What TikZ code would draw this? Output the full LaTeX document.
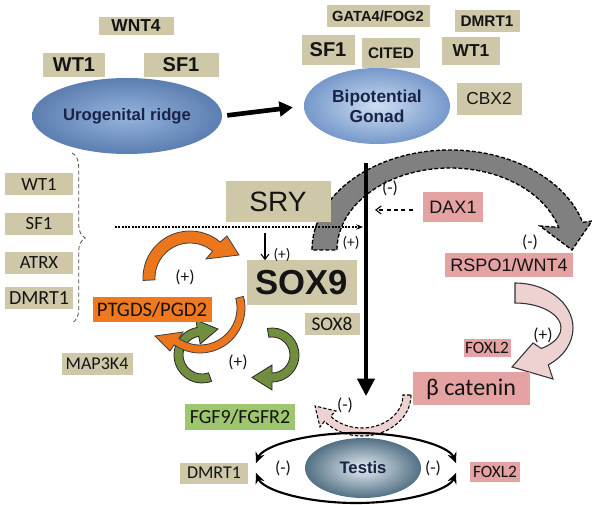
\documentclass[tikz,border=0pt]{standalone}
\usepackage{fontspec}
\setmainfont{Liberation Sans}
\newfontfamily\calf{Carlito}
\usetikzlibrary{arrows.meta,decorations.pathreplacing,calc,shapes.geometric}
\newcommand\pu{*0.75pt}
\newcommand\fs[1]{\fontsize{#1}{#1}\selectfont}
\definecolor{khaki}{RGB}{207,200,168}
\definecolor{pinkbox}{RGB}{228,162,162}
\definecolor{orangebox}{RGB}{240,120,30}
\definecolor{greenbox}{RGB}{158,198,108}
\definecolor{txt}{RGB}{20,20,20}
\definecolor{navy}{RGB}{25,35,70}
\definecolor{orangearc}{RGB}{235,118,28}
\definecolor{greenarc}{RGB}{112,142,62}
\definecolor{grayarc}{RGB}{128,128,128}
\definecolor{pinkarc}{RGB}{238,210,210}
\begin{document}
\begin{tikzpicture}[x=0.75pt,y=-0.75pt,
  box/.style={rectangle, inner sep=0pt, text=txt},
  kbox/.style={box, fill=khaki},
  pbox/.style={box, fill=pinkbox},
  lab/.style={inner sep=0pt, text=txt, font=\calf\fs{13pt}},
  oarc/.style={fill=orangearc, draw=black!75, line width=0.6pt},
  garc/.style={fill=greenarc, draw=black!85, line width=0.6pt},
  grarc/.style={fill=grayarc, draw=black, line width=1pt, dash pattern=on 3pt off 1.5pt},
  pkarc/.style={fill=pinkarc, draw=black!80, line width=0.8pt},
  pkdash/.style={fill=pinkarc, draw=black, line width=0.8pt, dash pattern=on 2.5pt off 1.5pt},
  loopline/.style={line width=1.6pt, -{Stealth[length=8pt,width=7pt]}},
]
\fill[white] (0,0) rectangle (592,505);
\useasboundingbox (0,0) rectangle (592,505);

% ---------- top row ----------
\node[kbox, minimum width=75\pu, minimum height=18\pu, font=\bfseries\fs{13pt}] (wnt4) at (136,26) {WNT4};
\node[kbox, minimum width=62\pu, minimum height=24\pu, font=\bfseries\fs{15pt}] (wt1a) at (74,65) {WT1};
\node[kbox, minimum width=75\pu, minimum height=24\pu, font=\bfseries\fs{15pt}] (sf1a) at (181,65) {SF1};
\node[ellipse, minimum width=190\pu, minimum height=76\pu, inner sep=0pt,
      inner color={rgb,255:red,150;green,180;blue,222}, outer color={rgb,255:red,92;green,126;blue,176},
      text=navy, font=\bfseries\fs{12.5pt}] (uro) at (127,116) {Urogenital ridge};
\node[ellipse, minimum width=146\pu, minimum height=76\pu, inner sep=0pt,
      inner color={rgb,255:red,205;green,222;blue,242}, outer color={rgb,255:red,118;green,152;blue,202},
      text=navy, font=\bfseries\fs{13pt}, align=center] (gonad) at (377,106) {Bipotential\\[2pt]Gonad};
\draw[line width=3.5pt, -{Triangle[length=10pt,width=11pt]}, shorten <=5\pu, shorten >=11\pu] (uro.east) -- (gonad.west);

\node[kbox, minimum width=103\pu, minimum height=22\pu, font=\bfseries\fs{11pt}] (gata) at (378,16) {GATA4/FOG2};
\node[kbox, minimum width=65\pu, minimum height=22\pu, font=\bfseries\fs{11.5pt}] (dmrta) at (487,21) {DMRT1};
\node[kbox, minimum width=53\pu, minimum height=30\pu, font=\bfseries\fs{15pt}] (sf1b) at (328,50) {SF1};
\node[kbox, minimum width=58\pu, minimum height=30\pu, font=\bfseries\fs{11.5pt}] (cited) at (391,53) {CITED};
\node[kbox, minimum width=58\pu, minimum height=28\pu, font=\bfseries\fs{13pt}] (wt1b) at (471,51) {WT1};
\node[kbox, minimum width=65\pu, minimum height=32\pu, font=\fs{13pt}] (cbx2) at (489,99) {CBX2};

% ---------- left column ----------
\node[kbox, minimum width=68\pu, minimum height=22\pu, font=\calf\fs{14pt}] (wt1c) at (39,184) {WT1};
\node[kbox, minimum width=68\pu, minimum height=22\pu, font=\calf\fs{14pt}] (sf1c) at (39,224) {SF1};
\node[kbox, minimum width=68\pu, minimum height=22\pu, font=\calf\fs{14pt}] (atrx) at (39,263) {ATRX};
\node[kbox, minimum width=68\pu, minimum height=22\pu, font=\calf\fs{15pt}] (dmrtc) at (39,298) {DMRT1};
\coordinate (brtop) at (72,153);
\coordinate (brbot) at (72,323);
\draw[black!70, line width=0.6pt, densely dashed, decorate, decoration={brace, amplitude=10pt}] (brtop) -- (brbot);

% ---------- gray arc (SRY -> RSPO1) ----------
\coordinate (gc) at (450,250);
\filldraw[grarc] ($(gc)+(-180:138 and 100)$) arc[start angle=-180, end angle=-16, x radius=138, y radius=100]
   -- (592,221) -- (572,250) -- (540,226) -- ($(gc)+(-16:113 and 82)$)
   arc[start angle=-16, end angle=-180, x radius=113, y radius=82] -- cycle;

% ---------- SRY / SOX9 ----------
\node[kbox, minimum width=105\pu, minimum height=41\pu, font=\fs{21pt}] (sry) at (278,202) {SRY};
\node[kbox, minimum width=110\pu, minimum height=45\pu, font=\bfseries\fs{26pt}] (sox9) at (302,283) {SOX9};
\node[kbox, minimum width=55\pu, minimum height=22\pu, font=\calf\fs{14.5pt}] (sox8) at (332,324) {SOX8};

\coordinate (hl) at (115,227);
\coordinate (hr) at (363,227);
\draw[line width=1.5pt, densely dotted, -{Stealth[length=5pt,width=4pt]}] (hl) -- (hr);
\coordinate (vtop) at (366,163);
\coordinate (vbot) at (366,396);
\draw[line width=2.4pt, -{Triangle[length=13pt,width=13pt]}] (vtop) -- (vbot);
\coordinate (sa) at (265,233);
\draw[line width=0.8pt, -{Straight Barb[length=4pt,width=6pt]}] (sa) -- (sox9.north -| sa);

% ---------- DAX1 ----------
\node[pbox, minimum width=60\pu, minimum height=30\pu, font=\fs{13.5pt}] (dax1) at (453,207) {DAX1};
\coordinate (daxend) at (375,210);
\draw[line width=0.8pt, dash pattern=on 3pt off 2.5pt, -{Straight Barb[length=4pt,width=6pt]}] (dax1.west |- daxend) ++(-10,0) -- (daxend);

% ---------- RSPO1 / beta catenin ----------
\node[pbox, minimum width=128\pu, minimum height=24\pu, font=\fs{13.5pt}] (rspo) at (509,265) {RSPO1/WNT4};
\coordinate (pc) at (515,328);
\filldraw[pkarc] ($(pc)+(-90:58 and 45)$) arc[start angle=-90, end angle=55, x radius=58, y radius=45]
   -- (553,379) -- (512,367) -- (533,343) -- ($(pc)+(55:46 and 25)$)
   arc[start angle=55, end angle=-90, x radius=46, y radius=25] -- cycle;
\node[pbox, minimum width=47\pu, minimum height=18\pu, font=\calf\fs{13pt}] (foxa) at (487,348) {FOXL2};
\node[pbox, minimum width=117\pu, minimum height=33\pu, font=\calf\fs{18pt}] (bcat) at (471,389) {β catenin};

% pink dashed arrow
\coordinate (qc) at (362,395);
\filldraw[pkdash] ($(qc)+(0:49 and 41)$) arc[start angle=0, end angle=140, x radius=49, y radius=41]
   -- (320,427) -- (315,406) -- (336,411) -- ($(qc)+(140:41 and 33)$)
   arc[start angle=140, end angle=0, x radius=41, y radius=33] -- cycle;

% ---------- green / orange loops ----------
\coordinate (g1) at (202,355);
\filldraw[garc] ($(g1)+(70:28)$) arc[start angle=70, end angle=260, radius=28]
   -- (195.8,320) -- (218,329) -- (200.2,344) -- ($(g1)+(260:19)$)
   arc[start angle=260, end angle=70, radius=19] -- cycle;
\coordinate (g2) at (272,355);
\filldraw[garc] ($(g2)+(-100:27)$) arc[start angle=-100, end angle=90, radius=27]
   -- (272,390) -- (252,377.5) -- (272,365) -- ($(g2)+(90:18)$)
   arc[start angle=90, end angle=-100, radius=18] -- cycle;
\coordinate (o1) at (190,278);
\filldraw[oarc] ($(o1)+(-183:47)$) arc[start angle=-183, end angle=-50, radius=47]
   -- (227,236) -- (239,255) -- (206,259) -- ($(o1)+(-50:35)$)
   arc[start angle=-50, end angle=-183, radius=35] -- cycle;
\coordinate (o2) at (200,308);
\filldraw[oarc] ($(o2)+(-15:45)$) arc[start angle=-15, end angle=125, radius=45]
   -- (170,351) -- (155,336) -- (183,332) -- ($(o2)+(125:37)$)
   arc[start angle=125, end angle=-15, radius=37] -- cycle;

\node[box, fill=orangebox, minimum width=119\pu, minimum height=25\pu, font=\calf\fs{15.5pt}] (ptgds) at (152,310) {PTGDS/PGD2};
\node[kbox, minimum width=71\pu, minimum height=22\pu, font=\calf\fs{13.5pt}] (map) at (97,364) {MAP3K4};
\node[box, fill=greenbox, minimum width=110\pu, minimum height=25\pu, font=\calf\fs{15pt}] (fgf) at (240,417) {FGF9/FGFR2};

% ---------- Testis ----------
\node[ellipse, minimum width=116\pu, minimum height=60\pu, inner sep=0pt,
      inner color={rgb,255:red,228;green,236;blue,242}, outer color={rgb,255:red,82;green,112;blue,132},
      text=navy, font=\bfseries\fs{12.5pt}] (testis) at (363,468) {Testis};
\coordinate (tc) at (356,468);
\draw[loopline] ($(tc)+(-90:101 and 35)$) arc[start angle=-90, end angle=-172, x radius=101, y radius=35];
\draw[loopline] ($(tc)+(90:101 and 35)$) arc[start angle=90, end angle=172, x radius=101, y radius=35];
\draw[loopline] ($(tc)+(-90:101 and 35)$) arc[start angle=-90, end angle=-8, x radius=101, y radius=35];
\draw[loopline] ($(tc)+(90:101 and 35)$) arc[start angle=90, end angle=8, x radius=101, y radius=35];
\node[kbox, minimum width=68\pu, minimum height=21\pu, font=\calf\fs{13.5pt}] (dmrtd) at (214,473) {DMRT1};
\node[pbox, minimum width=50\pu, minimum height=20\pu, font=\calf\fs{13pt}] (foxb) at (495,472) {FOXL2};

% ---------- signs ----------
\node[lab] (s1) at (185,277) {(+)};
\node[lab] (s2) at (238,362) {(+)};
\node[lab, font=\calf\fs{11.5pt}] (s3) at (282,255) {(+)};
\node[lab, font=\calf\fs{11.5pt}] (s4) at (351,243) {(+)};
\node[lab] (s5) at (390,188) {(-)};
\node[lab] (s6) at (530,242) {(-)};
\node[lab] (s7) at (543,335) {(+)};
\node[lab] (s8) at (345,405) {(-)};
\node[lab] (s9) at (283,468) {(-)};
\node[lab] (s10) at (433,468) {(-)};
\end{tikzpicture}
\end{document}
